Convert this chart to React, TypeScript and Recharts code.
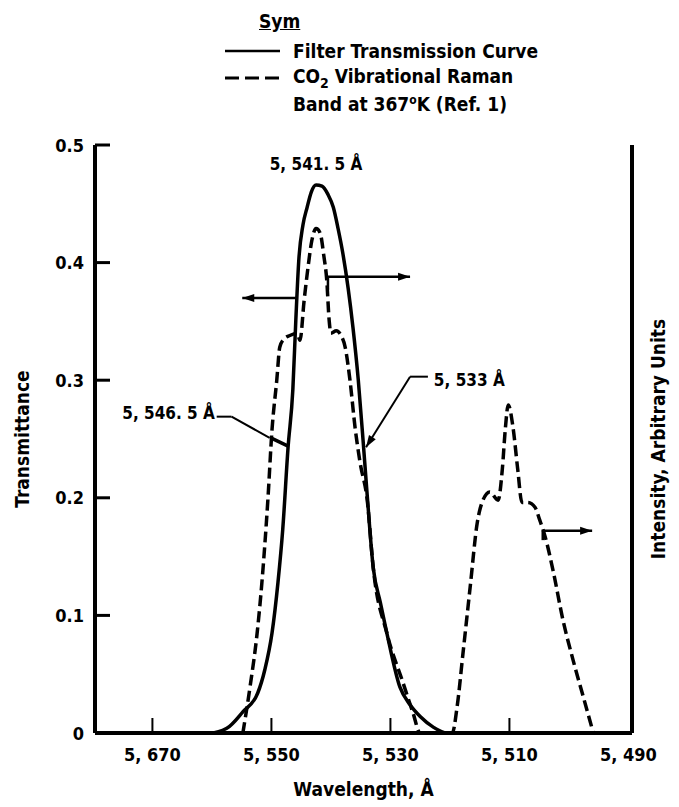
import { Label, Line, LineChart, ReferenceDot, ReferenceLine, XAxis, YAxis } from 'recharts';

const FONT = "'Liberation Sans Narrow', 'DejaVu Sans Condensed', 'Arial Narrow', 'Liberation Sans', sans-serif";

// filter transmission curve (solid), wavelength in angstrom
const filterWavelength = [
  5570, 5562.0, 5560.3, 5557.5, 5554.8, 5552.3, 5551.1, 5549.9, 5548.9, 5548.1,
  5547.2, 5546.4, 5545.9, 5545.4, 5544.7, 5544.0, 5543.3, 5542.5, 5541.5,
  5540.5, 5539.6, 5538.8, 5538.0, 5537.1, 5536.3, 5535.4, 5534.6, 5533.9, 5532.9,
  5531.7, 5530.6, 5528.4, 5526.7, 5525.0, 5522.8, 5520.5, 5516.6,
];
const filterTransmittance = [
  0, 0, 0, 0.004, 0.018, 0.034, 0.054, 0.085, 0.128, 0.173,
  0.243, 0.292, 0.351, 0.402, 0.432, 0.447, 0.46, 0.466, 0.465,
  0.458, 0.447, 0.429, 0.408, 0.378, 0.345, 0.3, 0.249, 0.202, 0.141,
  0.111, 0.085, 0.039, 0.024, 0.014, 0.005, 0, 0,
];

// CO2 vibrational Raman band (dashed), arbitrary intensity
const ramanWavelength = [
  5554.8, 5553.6, 5552.4, 5551.6, 5550.6, 5549.9, 5549.1, 5548.6, 5547.9, 5546.9,
  5545.7, 5545.2, 5544.5, 5543.8, 5543.2, 5542.5, 5541.8, 5541.2, 5540.7, 5540.3,
  5540.0, 5539.1, 5538.3, 5537.6, 5536.8, 5535.9, 5535.1, 5533.9, 5532.9, 5530.6,
  5527.9, 5526.2, 5525.0,
  5519.6, 5518.8, 5517.8, 5516.6, 5515.4, 5514.6, 5513.3,
  5511.9, 5511.2, 5510.7, 5510.2, 5509.4, 5508.6, 5507.9, 5506.9, 5505.7, 5504.9,
  5504.0, 5502.7, 5501.0, 5499.3, 5497.6, 5495.9,
];
const ramanIntensity = [
  0, 0.039, 0.085, 0.128, 0.198, 0.258, 0.3, 0.328, 0.335, 0.338,
  0.34, 0.334, 0.368, 0.398, 0.419, 0.429, 0.425, 0.406, 0.385, 0.351,
  0.34, 0.342, 0.338, 0.328, 0.3, 0.258, 0.23, 0.198, 0.141, 0.085,
  0.043, 0.017, 0,
  0, 0.022, 0.068, 0.124, 0.179, 0.196, 0.205,
  0.198, 0.224, 0.258, 0.279, 0.26, 0.224, 0.196, 0.196, 0.192, 0.181,
  0.167, 0.139, 0.096, 0.062, 0.031, 0,
];

const xTicks = [5570, 5550, 5530, 5510, 5490];
const xTickLabels = ['5, 670', '5, 550', '5, 530', '5, 510', '5, 490'];
const yTicks = [0, 0.1, 0.2, 0.3, 0.4, 0.5];
const yTickLabels = ['0', '0.1', '0.2', '0.3', '0.4', '0.5'];

const filterData = filterWavelength.map((w, i) => ({ wavelength: w, value: filterTransmittance[i] }));
const ramanData = ramanWavelength.map((w, i) => ({ wavelength: w, value: ramanIntensity[i] }));

const Y_MARGIN = 11;
const X_MARGIN = 21;

function LeftTick({ x, y, payload }: any) {
  const axisX = x + Y_MARGIN;
  return (
    <g>
      {payload.value > 0 && (
        <line x1={axisX} x2={axisX + 15} y1={y} y2={y} stroke="#000" strokeWidth={3} />
      )}
      <text x={x} y={y} textAnchor="end" dominantBaseline="central" fontSize={18} fontWeight={700} fontFamily={FONT} fill="#000">
        {yTickLabels[yTicks.indexOf(payload.value)]}
      </text>
    </g>
  );
}

function BottomTick({ x, y, payload }: any) {
  const axisY = y - X_MARGIN;
  const idx = xTicks.indexOf(payload.value);
  return (
    <g>
      {idx < xTicks.length - 1 && (
        <line x1={x} x2={x} y1={axisY} y2={axisY - 15} stroke="#000" strokeWidth={2} />
      )}
      <text x={x} y={y} textAnchor="middle" dominantBaseline="central" fontSize={18} fontWeight={700} fontFamily={FONT} fill="#000">
        {xTickLabels[idx]}
      </text>
    </g>
  );
}

const arrowShape = (withHead: boolean, width = 2.5) => (p: any) => {
  const { x1, y1, x2, y2 } = p;
  const ang = Math.atan2(y2 - y1, x2 - x1);
  const len = 12;
  const half = 4;
  const bx = x2 - len * Math.cos(ang);
  const by = y2 - len * Math.sin(ang);
  const pts = `${x2},${y2} ${bx - half * Math.sin(ang)},${by + half * Math.cos(ang)} ${bx + half * Math.sin(ang)},${by - half * Math.cos(ang)}`;
  return (
    <g>
      <line x1={x1} y1={y1} x2={x2} y2={y2} stroke="#000" strokeWidth={width} />
      {withHead && <polygon points={pts} fill="#000" />}
    </g>
  );
};

const textShape = (text: string, anchor: 'start' | 'middle' | 'end') => (p: any) => (
  <text x={p.cx} y={p.cy} textAnchor={anchor} dominantBaseline="central" fontSize={17} fontWeight={700} fontFamily={FONT} fill="#000">
    {text}
  </text>
);

// arrow / leader segments in data space: [x1, y1, x2, y2, head, width]
const segments: [number, number, number, number, boolean, number][] = [
  [5545.7, 0.37, 5554.9, 0.37, true, 2.5],
  [5540.5, 0.377, 5540.5, 0.388, false, 2.5],
  [5540.5, 0.388, 5526.7, 0.388, true, 2.5],
  [5504.4, 0.164, 5504.4, 0.172, false, 2.5],
  [5504.4, 0.172, 5496.1, 0.172, true, 2.5],
  [5559.2, 0.269, 5556.7, 0.269, false, 2],
  [5556.7, 0.269, 5550.3, 0.251, false, 2],
  [5550.1, 0.251, 5547.2, 0.244, false, 3.5],
  [5523.7, 0.303, 5526.7, 0.303, false, 2],
  [5526.7, 0.303, 5534.1, 0.243, true, 2],
];

const notes: [number, number, string, 'start' | 'middle' | 'end'][] = [
  [5542.5, 0.484, '5, 541. 5 Å', 'middle'],
  [5559.5, 0.272, '5, 546. 5 Å', 'end'],
  [5522.7, 0.3, '5, 533 Å', 'start'],
];

const legendText = { fontFamily: FONT, fontSize: 19, fontWeight: 700, color: '#000' } as const;

export default function App() {
  return (
    <div style={{ position: 'absolute', left: 0, top: 0, width: 679, height: 807, background: '#fff' }}>
      <div style={{ position: 'absolute', left: 259, top: 9, ...legendText, textDecoration: 'underline', lineHeight: '24px' }}>
        Sym
      </div>
      <div style={{ position: 'absolute', left: 225, top: 39, height: 24, display: 'flex', alignItems: 'center' }}>
        <svg width={55} height={6}>
          <line x1={0} x2={55} y1={3} y2={3} stroke="#000" strokeWidth={2.5} />
        </svg>
      </div>
      <div style={{ position: 'absolute', left: 293, top: 39, ...legendText, lineHeight: '24px', whiteSpace: 'nowrap' }}>
        Filter Transmission Curve
      </div>
      <div style={{ position: 'absolute', left: 225, top: 66, height: 24, display: 'flex', alignItems: 'center' }}>
        <svg width={55} height={6}>
          <line x1={0} x2={55} y1={3} y2={3} stroke="#000" strokeWidth={3} strokeDasharray="14 6" />
        </svg>
      </div>
      <div style={{ position: 'absolute', left: 293, top: 64, ...legendText, lineHeight: '24px', whiteSpace: 'nowrap' }}>
        CO<sub style={{ fontSize: 14 }}>2</sub> Vibrational Raman
      </div>
      <div style={{ position: 'absolute', left: 293, top: 88, ...legendText, lineHeight: '24px', whiteSpace: 'nowrap' }}>
        Band at 367<sup style={{ fontSize: 12 }}>o</sup>K (Ref. 1)
      </div>

      <LineChart width={679} height={807} margin={{ top: 145, right: 0, bottom: 0, left: 0 }} style={{ fontFamily: FONT }}>
        <XAxis
          type="number"
          dataKey="wavelength"
          domain={[5489.4, 5579.65]}
          reversed
          allowDataOverflow
          ticks={xTicks}
          interval={0}
          height={74}
          tickLine={false}
          tickSize={0}
          tickMargin={X_MARGIN}
          tick={<BottomTick />}
          axisLine={{ stroke: '#000', strokeWidth: 4 }}
        >
          <Label value="Wavelength,  Å" position="insideBottom" offset={11} fill="#000" fontSize={19} fontWeight={700} />
        </XAxis>
        <YAxis
          yAxisId="t"
          type="number"
          domain={[0, 0.5]}
          allowDataOverflow
          ticks={yTicks}
          interval={0}
          width={95}
          tickLine={false}
          tickSize={0}
          tickMargin={Y_MARGIN}
          tick={<LeftTick />}
          axisLine={{ stroke: '#000', strokeWidth: 4 }}
        >
          <Label value="Transmittance" angle={-90} position="insideLeft" offset={22} fill="#000" fontSize={19} fontWeight={700} style={{ textAnchor: 'middle' }} />
        </YAxis>
        <YAxis
          yAxisId="i"
          orientation="right"
          type="number"
          domain={[0, 0.5]}
          allowDataOverflow
          width={47}
          tick={false}
          tickLine={false}
          axisLine={{ stroke: '#000', strokeWidth: 4 }}
        >
          <Label value="Intensity, Arbitrary Units" angle={-90} position="insideLeft" offset={26} fill="#000" fontSize={19} fontWeight={700} style={{ textAnchor: 'middle' }} />
        </YAxis>

        <Line
          yAxisId="t"
          data={filterData}
          dataKey="value"
          type="monotone"
          stroke="#000"
          strokeWidth={3.5}
          dot={false}
          activeDot={false}
          isAnimationActive={false}
        />
        <Line
          yAxisId="i"
          data={ramanData}
          dataKey="value"
          type="monotone"
          stroke="#000"
          strokeWidth={3.5}
          strokeDasharray="11 5"
          dot={false}
          activeDot={false}
          isAnimationActive={false}
        />

        {segments.map(([xa, ya, xb, yb, head, w], i) => (
          <ReferenceLine
            key={`seg-${i}`}
            yAxisId="t"
            segment={[{ x: xa, y: ya }, { x: xb, y: yb }]}
            ifOverflow="visible"
            shape={arrowShape(head, w)}
          />
        ))}
        {notes.map(([x, y, text, anchor], i) => (
          <ReferenceDot
            key={`note-${i}`}
            yAxisId="t"
            x={x}
            y={y}
            r={0}
            ifOverflow="visible"
            shape={textShape(text, anchor)}
          />
        ))}
      </LineChart>
    </div>
  );
}
